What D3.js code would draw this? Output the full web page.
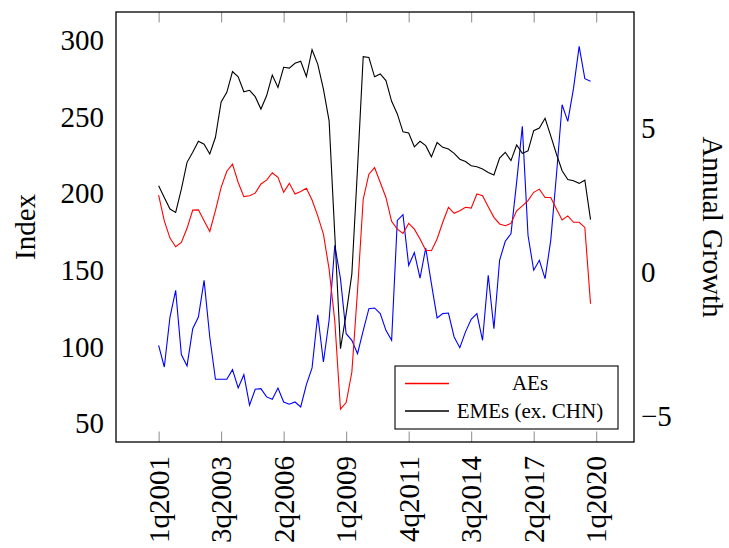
<!DOCTYPE html>
<html>
<head>
<meta charset="utf-8">
<script src="https://cdn.jsdelivr.net/npm/d3@7"></script>
<style>
  body { margin: 0; background: #fff; }
  svg { display: block; }
</style>
</head>
<body>
<div id="chart"></div>
<script>
// quarterly series, 77 points, first one is 1q2001
const indexSeries = [100.9, 86.8, 119.4, 136.8, 94.9, 87.5, 111.8, 119.4, 143.3, 106.4,
  78.8, 78.8, 78.8, 85.1, 73.1, 81.8, 61.9, 72.3, 72.7, 67.3,
  65.8, 73.1, 64.0, 62.5, 64.0, 60.8, 75.3, 86.2, 120.9, 90.1,
  117.3, 166.2, 144.4, 108.5, 104.2, 95.5, 110.5, 124.8, 125.3, 121.6,
  110.7, 104.2, 182.4, 186.1, 153.1, 161.4, 144.8, 164.4, 141.2, 118.8,
  121.6, 122.0, 106.4, 99.4, 109.7, 117.9, 121.6, 104.2, 146.6, 111.8,
  156.4, 168.8, 173.7, 207.4, 243.7, 172.7, 149.9, 156.4, 144.4, 169.4,
  211.8, 257.8, 247.0, 268.3, 295.9, 274.8, 273.1]

const aes = [2.67, 1.78, 1.18, 0.88, 1.03, 1.52, 2.15, 2.16, 1.78, 1.41,
  2.13, 2.94, 3.50, 3.75, 3.11, 2.62, 2.65, 2.74, 3.06, 3.19,
  3.45, 3.29, 2.77, 3.08, 2.71, 2.80, 2.91, 2.50, 1.95, 1.32,
  0.10, -1.70, -4.76, -4.53, -3.48, -0.65, 2.53, 3.40, 3.63, 3.11,
  2.59, 1.76, 1.49, 1.34, 1.69, 1.49, 1.15, 0.76, 0.74, 1.15,
  1.73, 2.25, 2.04, 2.13, 2.25, 2.22, 2.71, 2.65, 2.27, 1.90,
  1.67, 1.61, 1.69, 2.13, 2.30, 2.48, 2.77, 2.88, 2.59, 2.59,
  2.19, 1.81, 1.95, 1.73, 1.73, 1.55, -1.10]

const emes = [3.00, 2.59, 2.19, 2.07, 2.88, 3.81, 4.16, 4.54, 4.44, 4.10,
  4.68, 5.91, 6.24, 6.96, 6.78, 6.26, 6.31, 6.09, 5.66, 6.12,
  6.84, 6.41, 7.11, 7.08, 7.25, 7.32, 6.79, 7.72, 7.22, 6.35,
  5.25, 1.30, -2.66, -1.45, -0.07, 3.60, 7.48, 7.45, 6.78, 6.88,
  6.65, 5.93, 5.49, 4.87, 4.83, 4.35, 4.54, 4.39, 4.00, 4.50,
  4.33, 4.27, 4.12, 3.92, 3.84, 3.69, 3.66, 3.58, 3.46, 3.37,
  3.96, 4.16, 3.87, 4.41, 4.12, 4.21, 4.91, 5.00, 5.34, 4.73,
  4.10, 3.52, 3.21, 3.17, 3.08, 3.19, 1.82]

const xTickPos = [0, 11, 22, 33, 44, 55, 66, 77]
const xTickLabels = ["1q2001", "3q2003", "2q2006", "1q2009", "4q2011", "3q2014", "2q2017", "1q2020"]
const leftTicks = [50, 100, 150, 200, 250, 300]
const rightTicks = [-5, 0, 5]
const legendNames = ["AEs", "EMEs (ex. CHN)"]
const seriesColors = ["#ff0000", "#000000"]

const W = 729, H = 548
const box = {left: 116, right: 634, top: 12, bottom: 442}
const font = "'Liberation Serif', 'DejaVu Serif', serif"

const svg = d3.select("#chart").append("svg").attr("width", W).attr("height", H)
  .style("background", "white")

const x = d3.scaleLinear().domain([-7.5, 83.65]).range([box.left, box.right])
const yL = d3.scaleLinear().domain([37.9, 318.3]).range([box.bottom, box.top])
const yR = d3.scaleLinear().domain([-5.9, 9.03]).range([box.bottom, box.top])

// x ticks, gray, inside, top and bottom
const bottomAxis = svg.append("g").attr("transform", `translate(0,${box.bottom})`)
  .call(d3.axisBottom(x).tickValues(xTickPos).tickSizeInner(-10.5).tickSizeOuter(0)
    .tickFormat((d, i) => xTickLabels[i]))
bottomAxis.select(".domain").remove()
bottomAxis.selectAll("line").attr("stroke", "#8c8c8c")
bottomAxis.selectAll("text")
  .attr("font-family", font).attr("font-size", 29).attr("fill", "#000")
  .attr("text-anchor", "end")
  .attr("x", 0).attr("y", 0).attr("dy", "0.33em")
  .attr("transform", "translate(0,14) rotate(-90)")

const topAxis = svg.append("g").attr("transform", `translate(0,${box.top})`)
  .call(d3.axisTop(x).tickValues(xTickPos).tickSizeInner(-10.5).tickSizeOuter(0).tickFormat(""))
topAxis.select(".domain").remove()
topAxis.selectAll("line").attr("stroke", "#8c8c8c")

const leftAxis = svg.append("g").attr("transform", `translate(${box.left},0)`)
  .call(d3.axisLeft(yL).tickValues(leftTicks).tickSize(0).tickPadding(12))
leftAxis.select(".domain").remove()
leftAxis.selectAll("text").attr("font-family", font).attr("font-size", 29).attr("fill", "#000")

const rightAxis = svg.append("g").attr("transform", `translate(${box.right},0)`)
  .call(d3.axisRight(yR).tickValues(rightTicks).tickSize(0).tickPadding(7))
rightAxis.select(".domain").remove()
rightAxis.selectAll("text").attr("font-family", font).attr("font-size", 29).attr("fill", "#000")

// lines
const lineL = d3.line().x((d, i) => x(i)).y(d => yL(d))
const lineR = d3.line().x((d, i) => x(i)).y(d => yR(d))

svg.append("path").datum(indexSeries).attr("d", lineL)
  .attr("fill", "none").attr("stroke", "#0000ff").attr("stroke-width", 1.1)
svg.append("path").datum(aes).attr("d", lineR)
  .attr("fill", "none").attr("stroke", seriesColors[0]).attr("stroke-width", 1.1)
svg.append("path").datum(emes).attr("d", lineR)
  .attr("fill", "none").attr("stroke", seriesColors[1]).attr("stroke-width", 1.1)

// frame
svg.append("rect").attr("x", box.left).attr("y", box.top)
  .attr("width", box.right - box.left).attr("height", box.bottom - box.top)
  .attr("fill", "none").attr("stroke", "#000").attr("stroke-width", 1.3)

// axis titles
svg.append("text").attr("transform", `translate(35,${(box.top + box.bottom) / 2}) rotate(-90)`)
  .attr("text-anchor", "middle").attr("font-family", font).attr("font-size", 29).text("Index")
svg.append("text").attr("transform", `translate(703,${(box.top + box.bottom) / 2}) rotate(90)`)
  .attr("text-anchor", "middle").attr("font-family", font).attr("font-size", 29).text("Annual Growth")

// legend
const lg = svg.append("g")
lg.append("rect").attr("x", 395).attr("y", 366).attr("width", 223).attr("height", 63)
  .attr("fill", "#fff").attr("stroke", "#000").attr("stroke-width", 1.1)
legendNames.forEach((name, i) => {
  const yy = 383.5 + i * 27.5
  lg.append("path").attr("d", `M405,${yy}H449`)
    .attr("fill", "none").attr("stroke", seriesColors[i]).attr("stroke-width", 1.3)
  lg.append("text").attr("x", 530).attr("y", yy).attr("dy", "0.33em")
    .attr("text-anchor", "middle").attr("font-family", font).attr("font-size", 21)
    .text(name)
})
</script>
</body>
</html>
